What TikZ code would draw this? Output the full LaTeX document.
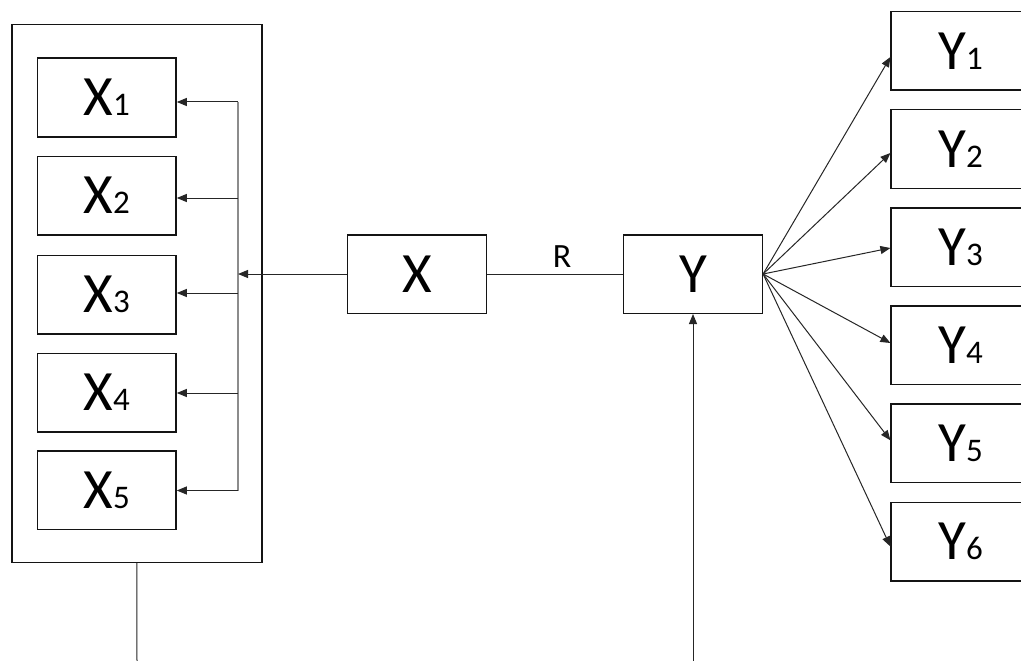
\documentclass[tikz,border=0pt]{standalone}
\usepackage{fontspec}
\setmainfont{Carlito}
\usetikzlibrary{arrows.meta,calc}
\newcommand\biglbl[2]{{\fontsize{57}{57}\selectfont #1}{\fontsize{33}{33}\selectfont #2}}
\begin{document}
\begin{tikzpicture}[x=1pt,y=-1pt,
  box/.style={draw=black!92, line width=1.5pt, minimum width=138.7pt,
    minimum height=78.5pt, inner sep=0pt},
  frame/.style={draw=black!92, line width=1.5pt, minimum width=250.3pt,
    minimum height=538pt, inner sep=0pt},
  link/.style={draw=black!85, line width=1pt},
  arr/.style={link, -{Triangle[length=10pt,width=8pt]}},
  bus/.style={draw=black!45, line width=1.2pt}]
\clip (0,0) rectangle (1021,661);
\fill[white] (0,0) rectangle (1021,661);

% left group
\node[frame] (outer) at (136.9,293.3) {};
\node[box] (x1) at (106.7,97.5) {\biglbl{X}{1}};
\node[box] (x2) at (106.7,195.5) {\biglbl{X}{2}};
\node[box] (x3) at (106.7,294.5) {\biglbl{X}{3}};
\node[box] (x4) at (106.7,392.5) {\biglbl{X}{4}};
\node[box] (x5) at (106.7,490.3) {\biglbl{X}{5}};

% central pair
\node[box] (x) at (417,274) {\biglbl{X}{}};
\node[box] (y) at (693,274) {\biglbl{Y}{}};

% right column
\node[box] (y1) at (960.5,51) {\biglbl{Y}{1}};
\node[box] (y2) at (960.5,149) {\biglbl{Y}{2}};
\node[box] (y3) at (960.5,247) {\biglbl{Y}{3}};
\node[box] (y4) at (960.5,345) {\biglbl{Y}{4}};
\node[box] (y5) at (960.5,443.3) {\biglbl{Y}{5}};
\node[box] (y6) at (960.5,541.5) {\biglbl{Y}{6}};

% distribution bus
\coordinate (b1) at (238,102);
\coordinate (b2) at (238,198);
\coordinate (b3) at (238,293);
\coordinate (b4) at (238,393);
\coordinate (b5) at (238,490.5);
\draw[bus] (b1) -- (b5);
\draw[arr] (b1) -- (b1 -| x1.east);
\draw[arr] (b2) -- (b2 -| x2.east);
\draw[arr] (b3) -- (b3 -| x3.east);
\draw[arr] (b4) -- (b4 -| x4.east);
\draw[arr] (b5) -- (b5 -| x5.east);
\draw[arr] (x.west) -- (x.west -| b1);

% relation
\draw[link] (x.east) -- (y.west);
\node (r) at (562,257) {\fontsize{34}{34}\selectfont R};

% fan-out
\draw[arr] (y.east) -- ($(y1.west)+(0,6)$);
\draw[arr] (y.east) -- ($(y2.west)+(0,4)$);
\draw[arr] (y.east) -- ($(y3.west)+(0,1)$);
\draw[arr] (y.east) -- ($(y4.west)+(0,-2)$);
\draw[arr] (y.east) -- ($(y5.west)+(0,-3)$);
\draw[arr] (y.east) -- ($(y6.west)+(0,5)$);

% lines leaving the bottom edge
\coordinate (lb) at (137,661);
\coordinate (rb) at (693,661);
\draw[link] (outer.south) -- (lb);
\draw[arr] (rb) -- (y.south);
\end{tikzpicture}
\end{document}
